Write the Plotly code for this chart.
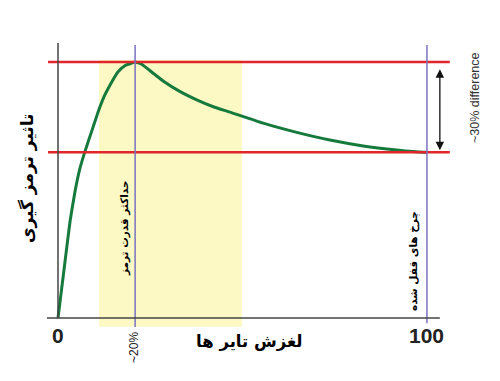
import plotly.graph_objects as go

# ---- data ----
slip_pct = [0, 1.0, 1.9, 3.25, 4.6, 5.96, 7.3, 9.1, 10.9, 12.7, 14.6, 16.3, 18.2, 20.0,
            20.9, 22.7, 25.8, 28.5, 33.1, 37.6, 42.1, 46.6, 55.6, 64.7, 73.7, 82.7,
            91.8, 99.0, 100]
braking_effect = [0, 11.6, 22.0, 37.6, 49.3, 58.5, 65.0, 72.8, 80.6, 87.1, 92.3, 96.2,
                  98.6, 99.6, 100, 99.1, 95.6, 92.6, 88.4, 85.2, 82.5, 80.4, 76.1, 72.5,
                  69.5, 67.2, 65.6, 64.7, 64.7]
peak_slip = 20.9
locked_slip = 100
peak_level = 100
locked_level = 64.7
band_range = [11.1, 49.9]
x_tick_values = [0, 100]
x_tick_labels = ["0", "100"]
peak_tick_label = "~20%"
x_title = "لغزش تایر ها"
y_title = "تاثیر ترمز گیری"
peak_label = "حداکثر قدرت ترمز"
locked_label = "چرخ های قفل شده"
diff_label = "~30% difference"

AR_FONT = "DejaVu Sans"
RED = "#e0262b"
PURPLE = "#7a72c0"
DARK = "#444444"

fig = go.Figure()

# yellow band
fig.add_shape(type="rect", x0=band_range[0], x1=band_range[1], y0=-3.4, y1=100.8,
              fillcolor="#fcf9c4", line=dict(width=0), layer="below")

# red reference lines
for lvl in [peak_level, locked_level]:
    fig.add_shape(type="line", x0=-2.7, x1=106.2, y0=lvl, y1=lvl,
                  line=dict(color=RED, width=2.5))

# vertical lines
fig.add_shape(type="line", x0=0, x1=0, y0=0, y1=107.4, line=dict(color=DARK, width=1.5))
fig.add_shape(type="line", x0=peak_slip, x1=peak_slip, y0=-3.5, y1=106.6,
              line=dict(color=PURPLE, width=1.5))
fig.add_shape(type="line", x0=locked_slip, x1=locked_slip, y0=-2, y1=106.6,
              line=dict(color=PURPLE, width=1.5))
# x axis line
fig.add_shape(type="line", x0=-3, x1=103.5, y0=0, y1=0, line=dict(color=DARK, width=1.5))

# curve
fig.add_trace(go.Scatter(x=slip_pct, y=braking_effect, mode="lines",
                         line=dict(color="#157a3c", width=3, shape="spline", smoothing=0.4),
                         hoverinfo="skip", showlegend=False))

# double arrow
fig.add_annotation(x=103.5, y=locked_level + 0.8, ax=103.5, ay=peak_level - 2.3,
                   xref="x", yref="y", axref="x", ayref="y", text="",
                   showarrow=True, arrowhead=2, startarrowhead=2, arrowside="end+start",
                   arrowsize=1.3, startarrowsize=1.3, arrowwidth=1.3, arrowcolor="#111111")

# texts
fig.add_annotation(x=113, y=86.3, text=diff_label, textangle=-90, showarrow=False,
                   font=dict(family="Liberation Sans, Arial", size=12.5, color="#333333"))
fig.add_annotation(x=18.2, y=35.2, text="<b>" + peak_label + "</b>", textangle=-90,
                   showarrow=False, font=dict(family=AR_FONT, size=10.5, color="#000000"))
fig.add_annotation(x=96.5, y=22.3, text="<b>" + locked_label + "</b>", textangle=-90,
                   showarrow=False, font=dict(family=AR_FONT, size=10.5, color="#000000"))
fig.add_annotation(x=-8.1, y=54.7, text="<b>" + y_title + "</b>", textangle=-90,
                   showarrow=False, font=dict(family=AR_FONT, size=17, color="#000000"))
fig.add_annotation(x=52, y=-9.4, text="<b>" + x_title + "</b>", showarrow=False,
                   font=dict(family=AR_FONT, size=16.5, color="#000000"))
for v, lab in zip(x_tick_values, x_tick_labels):
    fig.add_annotation(x=v, y=-7, text="<b>" + lab + "</b>", showarrow=False,
                       font=dict(family="Liberation Sans, Arial", size=21, color="#222222"))
fig.add_annotation(x=peak_slip - 0.3, y=-11.7, text=peak_tick_label, textangle=-90,
                   showarrow=False,
                   font=dict(family="Liberation Sans, Arial", size=12, color="#222222"))

fig.update_layout(
    width=500, height=381, margin=dict(l=0, r=0, t=0, b=0),
    paper_bgcolor="white", plot_bgcolor="white",
    xaxis=dict(range=[-15.72, 119.8], visible=False, fixedrange=True),
    yaxis=dict(range=[-24.6, 124.2], visible=False, fixedrange=True),
)

fig.write_html("out.html", config={"displayModeBar": False},
               post_script="document.body.style.margin='0';document.body.style.overflow='hidden';")
